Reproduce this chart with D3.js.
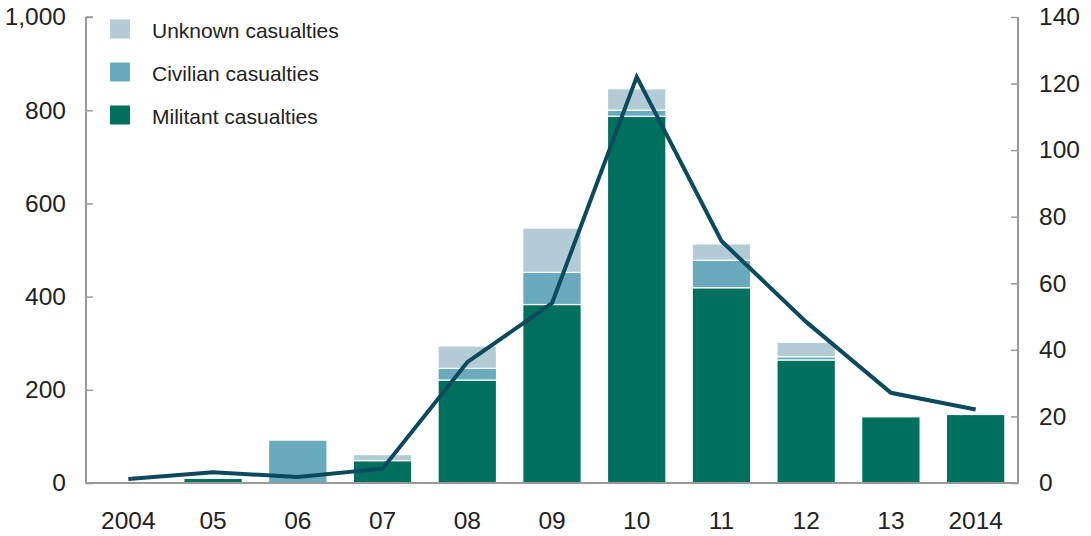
<!DOCTYPE html>
<html><head><meta charset="utf-8">
<script src="https://cdn.jsdelivr.net/npm/d3@7"></script>
<style>body{margin:0;background:#fff}svg{display:block;font-family:"Liberation Sans",Arial,sans-serif}</style>
</head><body><svg id="c" width="1091" height="536"></svg>
<script>
const categories = ["2004","05","06","07","08","09","10","11","12","13","2014"];
const militant = [0,10,0,48,221,383,787,419,264,142,147];
const civilian = [0,0,92,0,25,69,13,59,7,0,0];
const unknown  = [0,0,0,13,48,95,46,35,31,0,0];
const lineValues = [1.2,3.2,1.8,4.3,36.3,54,122,72.7,48.4,27.1,22.1];
const leftTicks = [0,200,400,600,800,1000];
const rightTicks = [0,20,40,60,80,100,120,140];
const seriesNames = ["Unknown casualties","Civilian casualties","Militant casualties"];
const colors = {militant:"#00705e", civilian:"#6aaabd", unknown:"#b3cbd4", line:"#0b4a5e", axis:"#999"};

const svg = d3.select("#c");
const L = 86, R = 1018, T = 17, B = 483;
const x = d3.scaleBand().domain(categories).range([L,R]).paddingInner(0.31).paddingOuter(0.155);
const yL = d3.scaleLinear().domain([0,1000]).range([B,T]);
const yR = d3.scaleLinear().domain([0,140]).range([B,T]);

const rows = categories.map((c,i)=>({cat:c, militant:militant[i], civilian:civilian[i], unknown:unknown[i]}));
const stack = d3.stack().keys(["militant","civilian","unknown"])(rows);
svg.append("g").selectAll("g").data(stack).join("g")
  .attr("fill", d=>colors[d.key])
  .selectAll("rect").data(d=>d.filter(p=>p[1]-p[0]>0)).join("rect")
  .attr("x", d=>x(d.data.cat))
  .attr("width", x.bandwidth())
  .attr("y", d=>yL(d[1]))
  .attr("height", d=>yL(d[0])-yL(d[1]))
  .attr("stroke","#fff").attr("stroke-width",1.2);

// axes
const tickStyle = g=>{g.select(".domain").remove();g.selectAll("line").attr("stroke",colors.axis).attr("stroke-width",1.5);
  g.selectAll("text").attr("fill","#222").style("font-size","24.5px");};
svg.append("g").attr("transform",`translate(${L},0)`)
  .call(d3.axisRight(yL).tickValues(leftTicks).tickSize(7).tickFormat(d3.format(",")))
  .call(tickStyle).call(g=>g.selectAll("text").attr("x",-20).attr("text-anchor","end"));
svg.append("g").attr("transform",`translate(${R},0)`)
  .call(d3.axisLeft(yR).tickValues(rightTicks).tickSize(7))
  .call(tickStyle).call(g=>g.selectAll("text").attr("x",21).attr("text-anchor","start"));
svg.append("g").attr("transform",`translate(0,${B})`)
  .call(d3.axisBottom(x).tickSize(0).tickPadding(29))
  .call(tickStyle);
svg.append("path").attr("fill","none").attr("stroke",colors.axis).attr("stroke-width",2)
  .attr("d",`M${L},${T}V${B}H${R}V${T}`);
svg.append("line").attr("x1",L).attr("x2",L+7).attr("y1",T).attr("y2",T).attr("stroke",colors.axis).attr("stroke-width",1.5);

// line
svg.append("path").datum(lineValues).attr("fill","none").attr("stroke",colors.line)
  .attr("stroke-width",4).attr("stroke-linejoin","miter")
  .attr("d", d3.line().x((d,i)=>x(categories[i])+x.bandwidth()/2).y(d=>yR(d)));

// legend
const leg = svg.append("g");
const legColors = [colors.unknown, colors.civilian, colors.militant];
seriesNames.forEach((n,i)=>{
  const gy = 19.5 + i*43;
  leg.append("rect").attr("x",110).attr("y",gy).attr("width",20).attr("height",19).attr("fill",legColors[i]);
  leg.append("text").attr("x",152).attr("y",gy+18).text(n).attr("fill","#222").style("font-size","21px");
});
</script></body></html>
